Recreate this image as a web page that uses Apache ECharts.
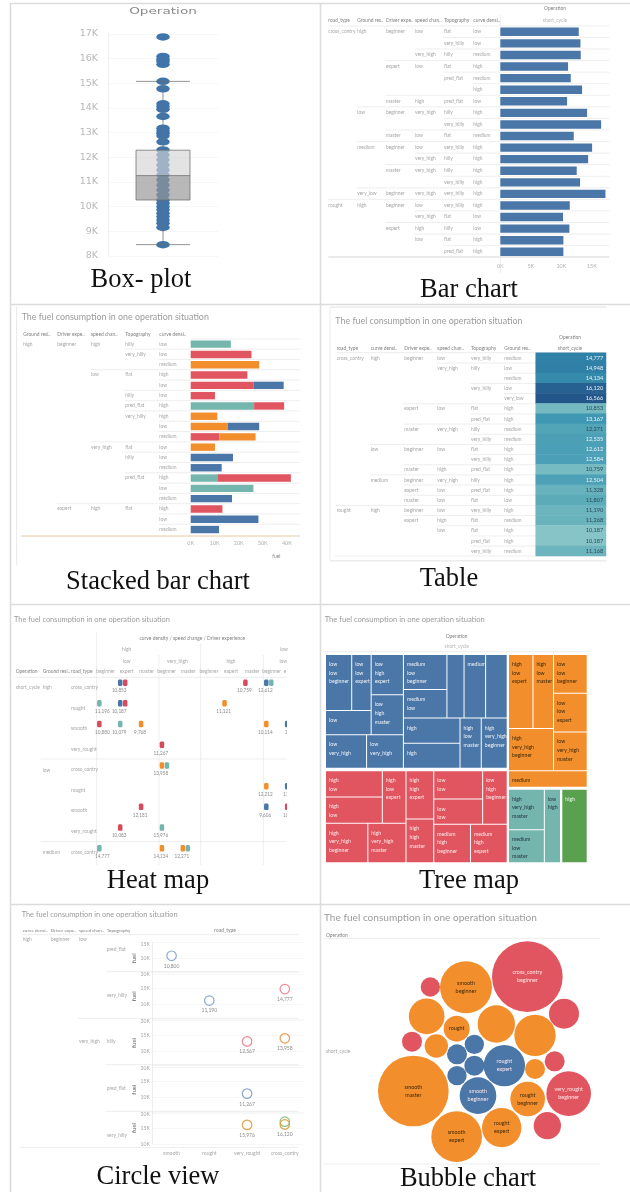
<!DOCTYPE html>
<html><head><meta charset="utf-8">
<style>html,body{margin:0;padding:0;background:#fff}#main{width:630px;height:1192px}#main canvas{filter:blur(.45px)}</style>
<script src="https://cdn.jsdelivr.net/npm/echarts@6/dist/echarts.min.js"></script>
</head><body><div id="main"></div>
<script>
// ---------- palette names ----------
const C={blue:'#4a76a8',red:'#e15560',orange:'#f28e2b',teal:'#74b5ad',green:'#59a14f'};
// ---------- box plot ----------
const boxTicks=[8000,17000,1000];
const boxFive=[8460,10270,11260,12290,15080];
const boxDots=[16880,16090,15980,15890,15770,15080,14780,14170,14060,13950,13660,13180,13070,12980,12870,12630,12300,12100,11900,11690,11490,11290,11090,10880,10680,10480,10270,10140,10000,9870,9730,9600,9460,9330,9160,8460];
// ---------- bar chart ----------
const barRows=[
['cross_contry','high','beginner','low','flat','low'],['','','','','very_hilly','low'],['','','','very_high','hilly','medium'],
['','','expert','low','flat','high'],['','','','','pred_flat','medium'],['','','','','','high'],['','','master','high','pred_flat','low'],
['','low','beginner','very_high','hilly','high'],['','','','','very_hilly','high'],['','','master','low','flat','medium'],
['','medium','beginner','low','very_hilly','high'],['','','','very_high','hilly','high'],['','','master','very_high','hilly','high'],['','','','','very_hilly','high'],
['','very_low','beginner','very_high','very_hilly','high'],['rought','high','beginner','low','very_hilly','high'],['','','','very_high','flat','low'],
['','','expert','high','hilly','low'],['','','','low','flat','high'],['','','','','pred_flat','high']];
const barValues=[12860,13140,13190,11110,11550,13410,10950,14230,16530,12040,15050,14400,12530,13080,17240,11390,10290,11330,10340,10340];
// ---------- stacked bar chart ----------
const stackRows=[
['high','beginner','high','hilly','low'],['','','','very_hilly','low'],['','','','','medium'],['','','low','flat','high'],['','','','','low'],
['','','','hilly','low'],['','','','pred_flat','high'],['','','','very_hilly','high'],['','','','','low'],['','','','','medium'],
['','','very_high','flat','low'],['','','','hilly','low'],['','','','','medium'],['','','','pred_flat','high'],['','','','','low'],['','','','','medium'],
['','expert','high','flat','high'],['','','','','low'],['','','','','medium']];
const stackTeal=[16700,0,0,0,0,0,26400,0,0,0,0,0,0,11100,26100,0,0,0,0];
const stackRed=[0,25300,0,23600,26100,10100,12500,0,0,11900,0,0,0,30600,0,0,13200,0,0];
const stackOrange=[0,0,28500,0,0,0,0,11100,15400,15100,10100,0,0,0,0,0,0,0,0];
const stackBlue=[0,0,0,0,12600,0,0,0,13100,0,0,17600,12900,0,0,17200,0,28200,11800];
// ---------- table ----------
const tableRows=[
['cross_contry','high','beginner','low','very_hilly','medium'],['','','','very_high','hilly','low'],['','','','','','medium'],['','','','','very_hilly','low'],['','','','','','very_low'],
['','','expert','low','flat','high'],['','','','','pred_flat','high'],['','','master','very_high','hilly','medium'],['','','','','very_hilly','medium'],
['','low','beginner','low','flat','high'],['','','','','very_hilly','high'],['','','master','high','pred_flat','high'],
['','medium','beginner','very_high','hilly','high'],['','','expert','low','pred_flat','high'],['','','master','low','flat','low'],
['rought','high','beginner','low','very_hilly','high'],['','','expert','high','flat','medium'],['','','','low','flat','high'],['','','','','pred_flat','high'],['','','','','very_hilly','medium']];
const tableValues=[14777,14948,14134,16120,16566,10853,13167,12271,12535,12612,12584,10759,12504,11328,11807,11190,11268,10187,10187,11168];
// ---------- heat map : [column, row, slot, text] ----------
const heatCols=['beginner','expert','master','beginner','master','beginner','expert','master','beginner','expert'];
const heatRowNames=['cross_contry','rought','smooth','very_rought','cross_contry','rought','smooth','very_rought','cross_contry'];
const heatTeal=[[8,0,1,''],[0,1,0,'11,196'],[1,2,0,'10,079'],[3,4,1,''],[3,7,0,'15,976'],[0,8,0,'14,777'],[4,8,1,'']];
const heatRed=[[1,0,1,''],[7,0,0,'10,759'],[1,1,1,''],[0,2,0,'10,880'],[3,3,0,'11,267'],[2,6,0,'12,181'],[9,6,0,'10,'],[1,7,0,'10,083']];
const heatOrange=[[6,1,0,'11,121'],[2,2,0,'9,768'],[8,2,0,'10,114'],[3,4,0,'13,958'],[8,5,0,'12,212'],[3,8,0,'14,134'],[4,8,0,'12,271']];
const heatBlue=[[1,0,0,'10,853'],[8,0,0,'12,612'],[1,1,0,'10,187'],[9,2,0,'1'],[9,5,0,'11,'],[8,6,0,'9,606']];
// ---------- tree map : [label, value] leaves, nested lists are groups ----------
const treeBlue=[
 [[[[['low\nlow\nbeginner',124],['low\nlow\nexpert',92]],['low',94]],[['low\nhigh\nexpert',110],['low\nhigh\nmaster',109]]],
 [['low\nvery_high',116],['low\nvery_high',104]]],
 [[['medium\nlow\nbeginner',129],['medium\nlow',105]],[['',92],[['medium',116],['',116]]],
 [[['high',120],['high',120]],['high\nlow\nmaster',90],['high\nvery_high\nbeginner',110]]]];
const treeRed=[
 [[[['high\nlow',126],['high\nlow',126]],['high\nlow\nexpert',105],[['high\nvery_high\nbeginner',142],['high\nvery_high\nmaster',128]]],
  [['high\nhigh\nexpert',113],['high\nhigh\nmaster',103]]],
 [[['low\nlow',117],['low\nlow',104]],['low\nhigh\nbeginner',111],[['medium\nhigh\nbeginner',120],['medium\nhigh\nexpert',120]]]];
const treeOrange=[
 [[[['high\nlow\nexpert',150],['high\nlow\nmaster',126]],['high\nvery_high\nbeginner',157]],[['low\nlow\nbeginner',108],['low\nlow\nexpert',108],['low\nvery_high\nmaster',108]]],
 ['medium',107]];
const treeTeal=[[['high\nvery_high\nmaster',122],['medium\nlow\nmaster',100]],['low\nhigh',100]];
const treeGreen=[['high',159]];
// ---------- circle view : [pane, road type, value, colour, text] ----------
const circleRoads=['smooth','rought','very_rought','cross_contry'];
const circleRings=[[0,0,10800,'#8ba8d0','10,800'],[1,1,11190,'#8ba8d0','11,190'],[1,3,14777,'#ee8a92','14,777'],
 [2,2,13000,'#ee8a92','12,567'],[2,3,13958,'#e89c50','13,958'],[3,2,11267,'#8ba8d0','11,267'],
 [4,2,15976,'#e3a24f','15,976'],[4,3,16980,'#8cc08a',''],[4,3,16120,'#d8a544','16,120']];
// ---------- bubble chart : [x, y, size, colour, text] ----------
const bubbles=[[622,230,212,'red','cross_contry\nbeginner'],[438,262,156,'orange','smooth\nbeginner'],[331,261,58,'red',''],[320,349,107,'orange',''],
[410,386,78,'orange','rought'],[529,372,112,'orange',''],[645,406,124,'orange',''],[732,341,90,'red',''],[276,425,60,'red',''],[349,438,70,'orange',''],
[463,433,58,'blue',''],[411,463,60,'blue',''],[463,497,60,'blue',''],[411,527,58,'blue',''],[553,497,124,'blue','rought\nexpert'],[645,507,60,'orange',''],
[704,484,60,'red',''],[746,581,134,'red','very_rought\nbeginner'],[623,597,104,'orange','rought\nbeginner'],[474,587,110,'blue','smooth\nbeginner'],
[280,573,212,'orange','smooth\nmaster'],[410,710,152,'orange','smooth\nexpert'],[545,683,118,'orange','rought\nexpert'],[682,677,82,'red','']];
const TITLE='The fuel consumption in one operation situation';

// ---------- helpers ----------
const G=[];
const FF='Lato, "Open Sans", sans-serif', GREY='#a6a6a6', HEAD='#808080', RULE='#e6e6e6';
function txt(x,y,s,o={}){G.push({type:'text',x,y,z:o.z||20,silent:true,scaleX:o.sx||1,style:{text:s,fill:o.color||GREY,font:(o.weight||'normal')+' '+(o.size||4.9)+'px '+(o.font||FF),textAlign:o.align||'left',textVerticalAlign:'middle'}});}
function ln(x1,y1,x2,y2,c,w){G.push({type:'line',z:1,silent:true,shape:{x1,y1,x2,y2},style:{stroke:c||RULE,lineWidth:w||0.7}});}
const P=(ox,oy)=>({t:(x,y,s,o)=>txt(ox+x/3,oy+y/3,s,o),l:(a,b,c,d,col,w)=>ln(ox+a/3,oy+b/3,ox+c/3,oy+d/3,col,w)});
function rowsTable(p,cols,y0,dy,rows,xEnd){
  rows.forEach((r,i)=>{const first=r.findIndex(v=>v!=='');
    r.forEach((v,j)=>{if(v)p.t(cols[j],y0+i*dy,v);});
    if(i>0)p.l(cols[first]-2,y0+(i-.5)*dy,xEnd,y0+(i-.5)*dy);});
}
const cap=(x,y,s)=>txt(x,y,s,{size:26.5,font:'"Liberation Serif",serif',color:'#111',align:'center'});
// frame
[[10.5,3,10.5,1192],[320.5,3,320.5,1192],[10,3.5,630,3.5],[10,304.5,630,304.5],[10,604.5,630,604.5],[10,904.5,630,904.5]].forEach(a=>ln(a[0],a[1],a[2],a[3],'#dcdcdc',1.6));
cap(141,280,'Box- plot');cap(469,290,'Bar chart');cap(158,582,'Stacked bar chart');cap(449,579,'Table');cap(158,881,'Heat map');cap(469,881,'Tree map');cap(158,1177,'Circle view');cap(468,1179,'Bubble chart');

// panel 1 header
txt(163,12,'Operation',{font:'"DejaVu Sans",sans-serif',size:8,align:'center',sx:1.7,color:'#8a8a8a'});
// panel 2 table
{const p=P(320,0),cols=[25,112,198,285,372,460];
 ['road_type','Ground res..','Driver expe..','speed chan..','Topography','curve densi..'].forEach((h,i)=>p.t(cols[i],62,h,{color:HEAD}));
 p.t(705,26,'Operation',{align:'center',color:HEAD});p.t(705,60,'short_cycle',{align:'center',color:'#b5b5b5'});
 p.l(25,78,868,78);p.l(25,771,868,771,'#d5d5d5',1);p.l(541,45,541,78);p.l(541,771,541,820);
 rowsTable(p,cols,95,34.7,barRows,868);}
// panel 3 table
{const p=P(0,300),cols=[70,172,273,376,478];
 p.t(65,52,TITLE,{size:8.9,color:'#9b9b9b'});
 ['Ground resi..','Driver expe..','speed chan..','Topography','curve densi..'].forEach((h,i)=>p.t(cols[i],103,h,{color:HEAD}));
 p.l(572,117,900,117);p.l(62,708,900,708,'#e8c8a8',1);p.l(50,20,50,795,'#e9e9e9',1);
 rowsTable(p,cols,132,30.9,stackRows,900);p.t(817,770,'fuel',{color:'#888'});}
// panel 4 table
{const p=P(320,300),cols=[50,152,253,352,453,553];
 p.t(46,63,TITLE,{size:8.9,color:'#9b9b9b'});
 ['road_type','curve densi..','Driver expe..','speed chan..','Topography','Ground res..'].forEach((h,i)=>p.t(cols[i],145,h,{color:HEAD}));
 p.t(750,113,'Operation',{align:'center',color:HEAD});p.t(750,145,'short_cycle',{align:'center',color:HEAD});
 p.l(50,158,858,158);p.l(45,768,858,768);p.l(30,782,860,782,'#ececec',1.5);p.l(30,22,860,22,'#ececec',1.5);p.l(30,22,30,782,'#ececec',1);
 rowsTable(p,cols,174,30.5,tableRows,647);}
// panel 5 headers
{const p=P(0,600);
 p.t(42,60,TITLE,{size:7.4,color:'#9b9b9b'});
 p.t(577,115,'curve density / speed change / Driver experience',{align:'center',color:HEAD});
 [[380,148,'high'],[852,148,'low'],[380,183,'low'],[532,183,'very_high'],[693,183,'high'],[850,183,'low']].forEach(a=>p.t(a[0],a[1],a[2],{align:'center'}));
 [317,380,440,500,565,627,693,757,815,855].forEach((x,i)=>p.t(x,215,heatCols[i]==='expert'&&i===9?'e':heatCols[i],{align:'center'}));
 p.t(47,215,'Operation',{color:HEAD});p.t(128,215,'Ground resi..',{color:HEAD});p.t(213,215,'road_type',{color:HEAD});
 p.l(45,232,860,232);p.l(122,477,860,477);p.l(122,725,860,725);
 [[290,97],[477,165],[602,130],[790,165]].forEach(a=>p.l(a[0],a[1],a[0],795));
 p.t(47,261,'short_cycle');p.t(128,261,'high');p.t(128,510,'low');p.t(128,757,'medium');
 [261,325,386,448,509,571,632,694,757].forEach((y,i)=>p.t(213,y,heatRowNames[i]));
 G.push({type:'rect',z:15,silent:true,shape:{x:287,y:640,width:31,height:232},style:{fill:'#fff'}});}
// panel 6 headers
{const p=P(320,600);p.t(14,58,TITLE,{size:7.6,color:'#9b9b9b'});
 p.t(410,108,'Operation',{align:'center',color:HEAD});p.t(410,140,'short_cycle',{align:'center',color:'#b5b5b5'});p.l(14,155,810,155);}
// panel 7 headers
{const p=P(0,900);p.t(65,45,TITLE,{size:7.4,color:'#9b9b9b'});
 [[68,'curve densi..'],[152,'Driver expe..'],[237,'speed chan..'],[320,'Topography']].forEach(a=>p.t(a[0],92,a[1],{color:HEAD,size:4.6}));
 p.t(675,92,'road_type',{align:'center',color:HEAD});p.l(65,104,895,104);
 [[318,215],[235,355],[318,494],[318,634],[62,742]].forEach(a=>p.l(a[0],a[1],895,a[1]));
 [[68,117,'high'],[152,117,'beginner'],[237,117,'low'],[320,147,'pred_flat'],[320,285,'very_hilly'],[237,425,'very_high'],[320,425,'hilly'],[320,565,'pred_flat'],[320,705,'very_hilly']].forEach(a=>p.t(a[0],a[1],a[2]));}
// panel 8 headers
{const p=P(320,900);p.t(12,53,TITLE,{size:10.1,color:'#9b9b9b'});
 p.t(18,105,'Operation',{color:HEAD});p.l(14,115,840,115);p.l(10,792,840,792);p.t(18,455,'short_cycle');}

// ---------- grids / axes ----------
const grid=[],xAxis=[],yAxis=[],series=[];
function addGrid(g,x,y){grid.push(Object.assign({containLabel:false},g));x.gridIndex=y.gridIndex=grid.length-1;xAxis.push(x);yAxis.push(y);return grid.length-1;}
const idx=n=>Array.from({length:n},(_,i)=>i);
const faint={lineStyle:{color:'#f3f3f3',width:.7}};

// box plot
const g0=addGrid({left:108,top:34,width:110,height:222},{type:'category',data:['short_cycle'],show:false},
 {type:'value',min:boxTicks[0],max:boxTicks[1],interval:boxTicks[2],axisTick:{show:false},axisLine:{show:true,lineStyle:{color:'#f0f0f0'}},splitLine:Object.assign({show:true},faint),
  axisLabel:{margin:10,fontFamily:'"DejaVu Sans",sans-serif',fontSize:9.5,color:'#b8b8b8',formatter:v=>v/1000+'K'}});
series.push({type:'scatter',xAxisIndex:g0,yAxisIndex:g0,z:2,symbol:'circle',symbolSize:[13.5,7.5],itemStyle:{color:'#3f75ab',opacity:1},data:boxDots.map(v=>[0,v])});
series.push({type:'bar',stack:'box',xAxisIndex:g0,yAxisIndex:g0,z:3,barWidth:54,silent:true,itemStyle:{color:'transparent'},data:[boxFive[1]]});
series.push({type:'bar',stack:'box',xAxisIndex:g0,yAxisIndex:g0,z:3,barWidth:54,silent:true,itemStyle:{color:'rgba(150,150,150,.68)'},data:[boxFive[2]-boxFive[1]]});
series.push({type:'bar',stack:'box',xAxisIndex:g0,yAxisIndex:g0,z:3,barWidth:54,silent:true,itemStyle:{color:'rgba(212,212,212,.65)'},data:[boxFive[3]-boxFive[2]]});
series.push({type:'boxplot',xAxisIndex:g0,yAxisIndex:g0,z:4,boxWidth:[54,54],itemStyle:{color:'transparent',borderColor:'rgba(110,110,110,.75)',borderWidth:1},data:[boxFive]});

// bar chart
const g1=addGrid({left:500.3,top:26,width:109,height:231.6},{type:'value',min:0,max:17870,interval:5000,axisLine:{show:false},axisTick:{show:false},splitLine:{show:false},
  axisLabel:{showMaxLabel:false,fontFamily:FF,fontSize:5.4,color:'#b0b0b0',margin:6,formatter:v=>v/1000+'K'}},
 {type:'category',inverse:true,data:idx(20),show:false});
series.push({type:'bar',xAxisIndex:g1,yAxisIndex:g1,barWidth:8.4,itemStyle:{color:C.blue},data:barValues});

// stacked
const g2=addGrid({left:190.7,top:339,width:109.3,height:195.7},{type:'value',min:0,max:45500,interval:10000,axisLine:{show:false},axisTick:{show:false},splitLine:{show:false},
  axisLabel:{showMaxLabel:false,fontFamily:FF,fontSize:5.4,color:'#b0b0b0',margin:6,formatter:v=>v/1000+'K'}},
 {type:'category',inverse:true,data:idx(19),show:false});
[[stackTeal,C.teal],[stackRed,C.red],[stackOrange,C.orange],[stackBlue,C.blue]].forEach(a=>series.push({type:'bar',stack:'fuel',xAxisIndex:g2,yAxisIndex:g2,barWidth:7.4,itemStyle:{color:a[1]},data:a[0]}));

// table
const g3=addGrid({left:535.7,top:352.7,width:70.3,height:203.4},{type:'category',data:['short_cycle'],show:false},{type:'category',inverse:true,data:idx(20),show:false});
const heatIndex=series.length;
series.push({type:'heatmap',xAxisIndex:g3,yAxisIndex:g3,data:tableValues.map((v,i)=>({value:[0,i,v],label:{color:v>12400?'#e9f3f6':'#2b4a58'}})),
 label:{show:true,position:'insideRight',distance:3,fontFamily:FF,fontSize:5.6,formatter:d=>d.value[2].toLocaleString('en-US')}});

// heat map
const g4=addGrid({left:88.9,top:672.3,width:208.7,height:186.3},{type:'category',data:idx(10),show:false},{type:'category',inverse:true,data:idx(9),show:false});
[[heatTeal,C.teal],[heatRed,'#d9495c'],[heatOrange,C.orange],[heatBlue,C.blue]].forEach(a=>series.push({type:'scatter',z:3,xAxisIndex:g4,yAxisIndex:g4,symbol:'roundRect',symbolSize:[4.5,6.5],itemStyle:{color:a[1],opacity:1},
 data:a[0].map(m=>({value:[m[0],m[1]],symbolOffset:[m[2]*5,0],label:{show:!!m[3],formatter:m[3],position:'bottom',distance:2.5,offset:[m[0]===0?3:-1,0],fontFamily:FF,fontSize:4.7,color:'#8a8a8a'}}))}));

// tree map
function treeNodes(n,color,lab){return n.map(v=>typeof v[0]==='string'?{name:v[0],value:v[1],itemStyle:{color},label:{color:lab}}:{name:'',children:treeNodes(v,color,lab)});}
function addTree(data,color,lab,r,left,top,width,height){series.push({type:'treemap',left,top,width,height,squareRatio:r,sort:false,roam:false,nodeClick:false,breadcrumb:{show:false},visibleMin:0,childrenVisibleMin:0,
 itemStyle:{gapWidth:1,borderWidth:0,borderColor:'#fff'},upperLabel:{show:false},label:{show:true,position:'insideTopLeft',distance:3,padding:[2,0,0,0],overflow:'none',fontFamily:FF,fontSize:5.2,lineHeight:8.6,formatter:'{b}'},
 data:treeNodes(data,color,lab)});}
addTree(treeBlue,C.blue,'#eef2f6',1.57,326,655,180.7,112.7);
addTree(treeRed,C.red,'#fbe8e8',1.1,326,771.3,180.7,91);
addTree(treeOrange,C.orange,'#3a2a10',2,509,655,77.7,131.7);
addTree(treeTeal,C.teal,'#234',2.2,509,789.7,51,72.6);
addTree(treeGreen,C.green,'#eef6ee',2,562.3,789.7,24.4,72.6);

// circle view
[[127,96,5000,15000],[217,144,5000,20000],[357,144,5000,20000],[497,144,5000,20000],[636,96,10000,20000]].forEach((pane,i)=>{
 const last=i===4;
 const g=addGrid({left:152.7,top:900+pane[0]/3,width:151,height:pane[1]/3},
  {type:'category',data:circleRoads,axisLine:{show:false},axisTick:{show:false},splitLine:{show:false},axisLabel:{show:last,margin:7,fontFamily:FF,fontSize:5,color:GREY,interval:0}},
  {type:'value',min:pane[2],max:pane[3],interval:5000,name:'fuel',nameLocation:'middle',nameGap:13,nameTextStyle:{fontFamily:FF,fontSize:6,color:'#666'},
   axisLine:{show:true,lineStyle:{color:'#e6e6e6',width:.7}},axisTick:{show:false},splitLine:Object.assign({show:true},faint),
   axisLabel:{margin:3,fontFamily:FF,fontSize:5,color:'#a5a5a5',showMinLabel:last,verticalAlignMaxLabel:'top',formatter:v=>v/1000+'K'}});
 series.push({type:'scatter',z:3,xAxisIndex:g,yAxisIndex:g,clip:false,symbolSize:9.5,
  data:circleRings.filter(r=>r[0]===i).map(r=>({value:[r[1],r[2]],itemStyle:{color:'transparent',borderColor:r[3],borderWidth:1.2,opacity:1},
   label:{show:!!r[4],formatter:r[4],position:'bottom',distance:2.5,fontFamily:FF,fontSize:5,color:'#8a8a8a'}}))});
});

// bubble chart
const g5=addGrid({left:320,top:935,width:300,height:230},{type:'value',min:0,max:900,show:false},{type:'value',min:105,max:795,inverse:true,show:false});
series.push({type:'scatter',xAxisIndex:g5,yAxisIndex:g5,clip:false,symbolSize:d=>d[2]/3,
 data:bubbles.map(b=>({value:[b[0],b[1],b[2]],itemStyle:{color:C[b[3]],opacity:1},label:{show:!!b[4],formatter:b[4],position:'inside',fontFamily:FF,fontSize:5.4,lineHeight:8,color:b[3]==='orange'?'#3a2a10':'#fbe8e8'}}))});

const chart=echarts.init(document.getElementById('main'),null,{renderer:'canvas'});
chart.setOption({animation:false,backgroundColor:'#fff',tooltip:{show:false},grid,xAxis,yAxis,series,
 visualMap:[{show:false,type:'continuous',seriesIndex:heatIndex,dimension:2,min:10000,max:16600,inRange:{color:['#8cc7c9','#5fadba','#3c95b3','#2f7fa6','#23558a']}}],
 graphic:{elements:G}});
</script></body></html>
